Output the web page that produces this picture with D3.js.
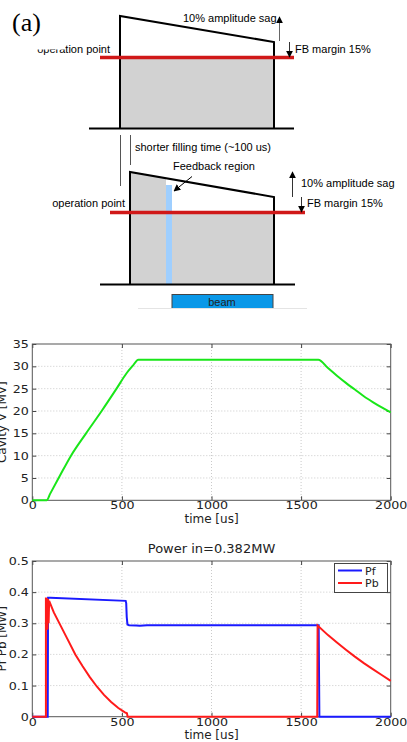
<!DOCTYPE html>
<html>
<head>
<meta charset="utf-8">
<script src="https://cdn.jsdelivr.net/npm/d3@7/dist/d3.min.js"></script>
<style>
  body { margin: 0; background: #fff; }
  svg { display: block; }
</style>
</head>
<body>
<svg id="fig" width="407" height="742"></svg>
<script>
// === Data ===
const timeTicks = [0, 500, 1000, 1500, 2000];
const voltTicks = [0, 5, 10, 15, 20, 25, 30, 35];
const powerTicks = [0, 0.1, 0.2, 0.3, 0.4, 0.5];

// cavity voltage [MV] vs time [us]
const cavityT = [0, 80, 100, 150, 216, 300, 387, 470, 525, 560, 592, 1596, 1650, 1700, 1750, 1800, 1850, 1900, 1950, 2000];
const cavityV = [0, 0, 1.5, 5.2, 10.0, 15.0, 20.0, 25.0, 28.4, 30.1, 31.5, 31.5, 29.6, 27.9, 26.3, 24.8, 23.3, 22.0, 20.8, 19.7];

// forward power Pf [MW]
const pfT = [0, 86, 88, 100, 521, 524, 527, 531, 540, 580, 600, 640, 1598, 1602, 2000];
const pfV = [0, 0, 0.382, 0.382, 0.372, 0.365, 0.320, 0.296, 0.294, 0.293, 0.292, 0.294, 0.294, 0, 0];

// reflected power Pb [MW]
const pbT = [0, 76, 76, 79, 82, 85, 88, 91, 94, 120, 160, 200, 240, 280, 320, 360, 400, 440, 480, 517, 528, 532, 1590, 1592, 1650, 1700, 1750, 1800, 1850, 1900, 1950, 2000];
const pbV = [0, 0, 0.383, 0.278, 0.380, 0.280, 0.378, 0.300, 0.372, 0.335, 0.290, 0.245, 0.200, 0.163, 0.128, 0.097, 0.070, 0.047, 0.028, 0.014, 0.011, 0, 0, 0.293, 0.262, 0.238, 0.215, 0.193, 0.172, 0.153, 0.134, 0.115];

const svg = d3.select('#fig');
const SANS = 'DejaVu Sans, sans-serif';
const ARIAL = 'Liberation Sans, Arial, sans-serif';

// === Schematic (a) ===
const defs = svg.append('defs');
defs.append('marker')
    .attr('id', 'head')
    .attr('viewBox', '0 0 10 10')
    .attr('refX', 9).attr('refY', 5)
    .attr('markerWidth', 7).attr('markerHeight', 7)
    .attr('markerUnits', 'userSpaceOnUse')
    .attr('orient', 'auto-start-reverse')
    .append('path')
    .attr('d', 'M0,0 L10,5 L0,10 z')
    .attr('fill', '#000');

const sk = svg.append('g').attr('class', 'schematic');
const red = '#d01818';
const fillGray = '#d2d2d2';

sk.append('text').text('(a)')
    .attr('x', 12).attr('y', 31)
    .attr('font-family', 'Liberation Serif, Times New Roman, serif')
    .attr('font-size', 26);

// upper pulse
sk.append('rect').attr('x', 120).attr('y', 57.5).attr('width', 154).attr('height', 70.5).attr('fill', fillGray);
sk.append('path').attr('d', 'M120,128 L120,16 L274,42 L274,128')
    .attr('fill', 'none').attr('stroke', '#000').attr('stroke-width', 2);
sk.append('line').attr('x1', 89).attr('x2', 294).attr('y1', 128.5).attr('y2', 128.5)
    .attr('stroke', '#000').attr('stroke-width', 2);
sk.append('line').attr('x1', 100).attr('x2', 294).attr('y1', 57.5).attr('y2', 57.5)
    .attr('stroke', red).attr('stroke-width', 3.5);

sk.append('text').text('operation point').attr('x', 110).attr('y', 53)
    .attr('text-anchor', 'end').attr('font-family', ARIAL).attr('font-size', 11);
// the left part of this label is partly hidden in the original
sk.append('rect').attr('x', 20).attr('y', 38).attr('width', 45).attr('height', 11.5).attr('fill', '#fff');

sk.append('text').text('10% amplitude sag').attr('x', 183).attr('y', 22)
    .attr('font-family', ARIAL).attr('font-size', 11);
sk.append('line').attr('x1', 279.5).attr('x2', 279.5).attr('y1', 41).attr('y2', 17)
    .attr('stroke', '#666').attr('stroke-width', 1).attr('marker-end', 'url(#head)');
sk.append('line').attr('x1', 289.5).attr('x2', 289.5).attr('y1', 42).attr('y2', 57)
    .attr('stroke', '#333').attr('stroke-width', 1).attr('marker-end', 'url(#head)');
sk.append('text').text('FB margin 15%').attr('x', 295).attr('y', 53)
    .attr('font-family', ARIAL).attr('font-size', 11);

// filling time markers
sk.append('line').attr('x1', 120.5).attr('x2', 120.5).attr('y1', 135).attr('y2', 186)
    .attr('stroke', '#555').attr('stroke-width', 1);
sk.append('line').attr('x1', 130.5).attr('x2', 130.5).attr('y1', 135).attr('y2', 165)
    .attr('stroke', '#555').attr('stroke-width', 1);
sk.append('text').text('shorter filling time (~100 us)').attr('x', 135).attr('y', 151)
    .attr('font-family', ARIAL).attr('font-size', 11);

// lower pulse
sk.append('path').attr('d', 'M130,284 L130,172 L166,178.2 L166,284 Z').attr('fill', fillGray);
sk.append('rect').attr('x', 172).attr('y', 212).attr('width', 102).attr('height', 72).attr('fill', fillGray);
sk.append('rect').attr('x', 166).attr('y', 185).attr('width', 6).attr('height', 99).attr('fill', '#9fcfff');
sk.append('path').attr('d', 'M130,284 L130,172 L274,197 L274,284')
    .attr('fill', 'none').attr('stroke', '#000').attr('stroke-width', 2);
sk.append('line').attr('x1', 100).attr('x2', 295).attr('y1', 284.5).attr('y2', 284.5)
    .attr('stroke', '#000').attr('stroke-width', 2);
sk.append('line').attr('x1', 110).attr('x2', 305).attr('y1', 212.5).attr('y2', 212.5)
    .attr('stroke', red).attr('stroke-width', 3.5);

sk.append('text').text('Feedback region').attr('x', 173).attr('y', 170)
    .attr('font-family', ARIAL).attr('font-size', 11);
sk.append('line').attr('x1', 192).attr('y1', 176.5).attr('x2', 174).attr('y2', 191)
    .attr('stroke', '#000').attr('stroke-width', 1).attr('marker-end', 'url(#head)');
sk.append('text').text('operation point').attr('x', 125).attr('y', 207)
    .attr('text-anchor', 'end').attr('font-family', ARIAL).attr('font-size', 11);

sk.append('line').attr('x1', 292.5).attr('x2', 292.5).attr('y1', 197).attr('y2', 172)
    .attr('stroke', '#333').attr('stroke-width', 1).attr('marker-end', 'url(#head)');
sk.append('text').text('10% amplitude sag').attr('x', 301).attr('y', 187)
    .attr('font-family', ARIAL).attr('font-size', 11);
sk.append('line').attr('x1', 301.5).attr('x2', 301.5).attr('y1', 197).attr('y2', 212)
    .attr('stroke', '#333').attr('stroke-width', 1).attr('marker-end', 'url(#head)');
sk.append('text').text('FB margin 15%').attr('x', 307).attr('y', 207)
    .attr('font-family', ARIAL).attr('font-size', 11);

// beam
sk.append('rect').attr('x', 172).attr('y', 294.5).attr('width', 101).attr('height', 16)
    .attr('fill', '#0a98e8').attr('stroke', '#444').attr('stroke-width', 1);
sk.append('rect').attr('x', 160).attr('y', 309).attr('width', 130).attr('height', 6).attr('fill', '#fff');
sk.append('line').attr('x1', 138).attr('x2', 307).attr('y1', 308.5).attr('y2', 308.5)
    .attr('stroke', '#e4e4e4').attr('stroke-width', 1);
sk.append('text').text('beam').attr('x', 222).attr('y', 306)
    .attr('text-anchor', 'middle').attr('font-family', ARIAL).attr('font-size', 11).attr('fill', '#222');

// === Panels ===
function drawPanel(opts) {
    const { top, bottom, yDomain, yTicks, yFormat, yLabel } = opts;
    const left = 32.3, right = 390.7;
    const x = d3.scaleLinear().domain([0, 2000]).range([left, right]);
    const y = d3.scaleLinear().domain(yDomain).range([bottom, top]);
    const g = svg.append('g');

    // dotted grid
    g.append('g').selectAll('line.gx')
        .data(timeTicks.slice(1, -1)).enter().append('line')
        .attr('x1', d => x(d)).attr('x2', d => x(d))
        .attr('y1', top).attr('y2', bottom)
        .attr('stroke', '#bdbdbd').attr('stroke-width', 0.8).attr('stroke-dasharray', '1,2');
    g.append('g').selectAll('line.gy')
        .data(yTicks.slice(1, -1)).enter().append('line')
        .attr('x1', left).attr('x2', right)
        .attr('y1', d => y(d)).attr('y2', d => y(d))
        .attr('stroke', '#bdbdbd').attr('stroke-width', 0.8).attr('stroke-dasharray', '1,2');

    const styleAxis = sel => {
        sel.select('.domain').remove();
        sel.selectAll('line').attr('stroke', '#444');
        sel.selectAll('text')
            .attr('font-family', SANS).attr('font-size', 11).attr('fill', '#222')
            .attr('transform', 'scale(1.15,1)');
    };

    g.append('g').attr('transform', `translate(0,${bottom})`)
        .call(d3.axisBottom(x).tickValues(timeTicks).tickFormat(d3.format('d'))
            .tickSizeInner(-4).tickSizeOuter(0).tickPadding(1))
        .call(styleAxis);
    g.append('g').attr('transform', `translate(0,${top})`)
        .call(d3.axisTop(x).tickValues(timeTicks).tickFormat('')
            .tickSizeInner(-4).tickSizeOuter(0))
        .call(styleAxis);
    g.append('g').attr('transform', `translate(${left},0)`)
        .call(d3.axisLeft(y).tickValues(yTicks).tickFormat(yFormat)
            .tickSizeInner(-4).tickSizeOuter(0).tickPadding(3))
        .call(styleAxis);
    g.append('g').attr('transform', `translate(${right},0)`)
        .call(d3.axisRight(y).tickValues(yTicks).tickFormat('')
            .tickSizeInner(-4).tickSizeOuter(0))
        .call(styleAxis);

    g.append('rect')
        .attr('x', left).attr('y', top)
        .attr('width', right - left).attr('height', bottom - top)
        .attr('fill', 'none').attr('stroke', '#555').attr('stroke-width', 1);

    g.append('text').text('time [us]')
        .attr('x', (left + right) / 2).attr('y', bottom + 22.5)
        .attr('text-anchor', 'middle')
        .attr('font-family', SANS).attr('font-size', 12).attr('fill', '#222');

    // y label sits at the very left edge, partly cut as in the original
    g.append('text').text(yLabel)
        .attr('transform', `translate(6,${(top + bottom) / 2}) rotate(-90)`)
        .attr('text-anchor', 'middle')
        .attr('font-family', SANS).attr('font-size', 12).attr('fill', '#222');

    return { g, x, y };
}

// middle: cavity voltage
const p1 = drawPanel({
    top: 344, bottom: 500.3, yDomain: [0, 35], yTicks: voltTicks,
    yFormat: d3.format('d'), yLabel: 'Cavity V [MV]'
});
p1.g.append('path')
    .datum(d3.zip(cavityT, cavityV))
    .attr('d', d3.line().curve(d3.curveMonotoneX).x(d => p1.x(d[0])).y(d => p1.y(d[1])))
    .attr('fill', 'none').attr('stroke', '#19e619').attr('stroke-width', 2);

// bottom: forward / reflected power
const p2 = drawPanel({
    top: 561, bottom: 716.7, yDomain: [0, 0.5], yTicks: powerTicks,
    yFormat: d => d === 0 ? '0' : d3.format('.1f')(d), yLabel: 'Pf Pb [MW]'
});
const powerLine = d3.line().x(d => p2.x(d[0])).y(d => p2.y(d[1]));
p2.g.append('path')
    .datum(d3.zip(pfT, pfV))
    .attr('d', powerLine)
    .attr('fill', 'none').attr('stroke', '#1a1aff').attr('stroke-width', 2);
p2.g.append('path')
    .datum(d3.zip(pbT, pbV))
    .attr('d', powerLine)
    .attr('fill', 'none').attr('stroke', '#ff1a1a').attr('stroke-width', 2);

p2.g.append('text').text('Power in=0.382MW')
    .attr('x', 211.5).attr('y', 553)
    .attr('text-anchor', 'middle')
    .attr('font-family', SANS).attr('font-size', 13).attr('fill', '#222');

// legend
const legendItems = [
    { name: 'Pf', color: '#1a1aff' },
    { name: 'Pb', color: '#ff1a1a' }
];
const lg = p2.g.append('g');
lg.append('rect').attr('x', 334.5).attr('y', 563.5).attr('width', 53).attr('height', 29)
    .attr('fill', '#fff').attr('stroke', '#444').attr('stroke-width', 1);
const item = lg.selectAll('g.item').data(legendItems).enter().append('g')
    .attr('transform', (d, i) => `translate(0,${570.5 + i * 12.5})`);
item.append('line').attr('x1', 338).attr('x2', 362).attr('y1', 0).attr('y2', 0)
    .attr('stroke', d => d.color).attr('stroke-width', 2);
item.append('text').text(d => d.name).attr('x', 365).attr('y', 4)
    .attr('font-family', SANS).attr('font-size', 11).attr('fill', '#222');
</script>
</body>
</html>
